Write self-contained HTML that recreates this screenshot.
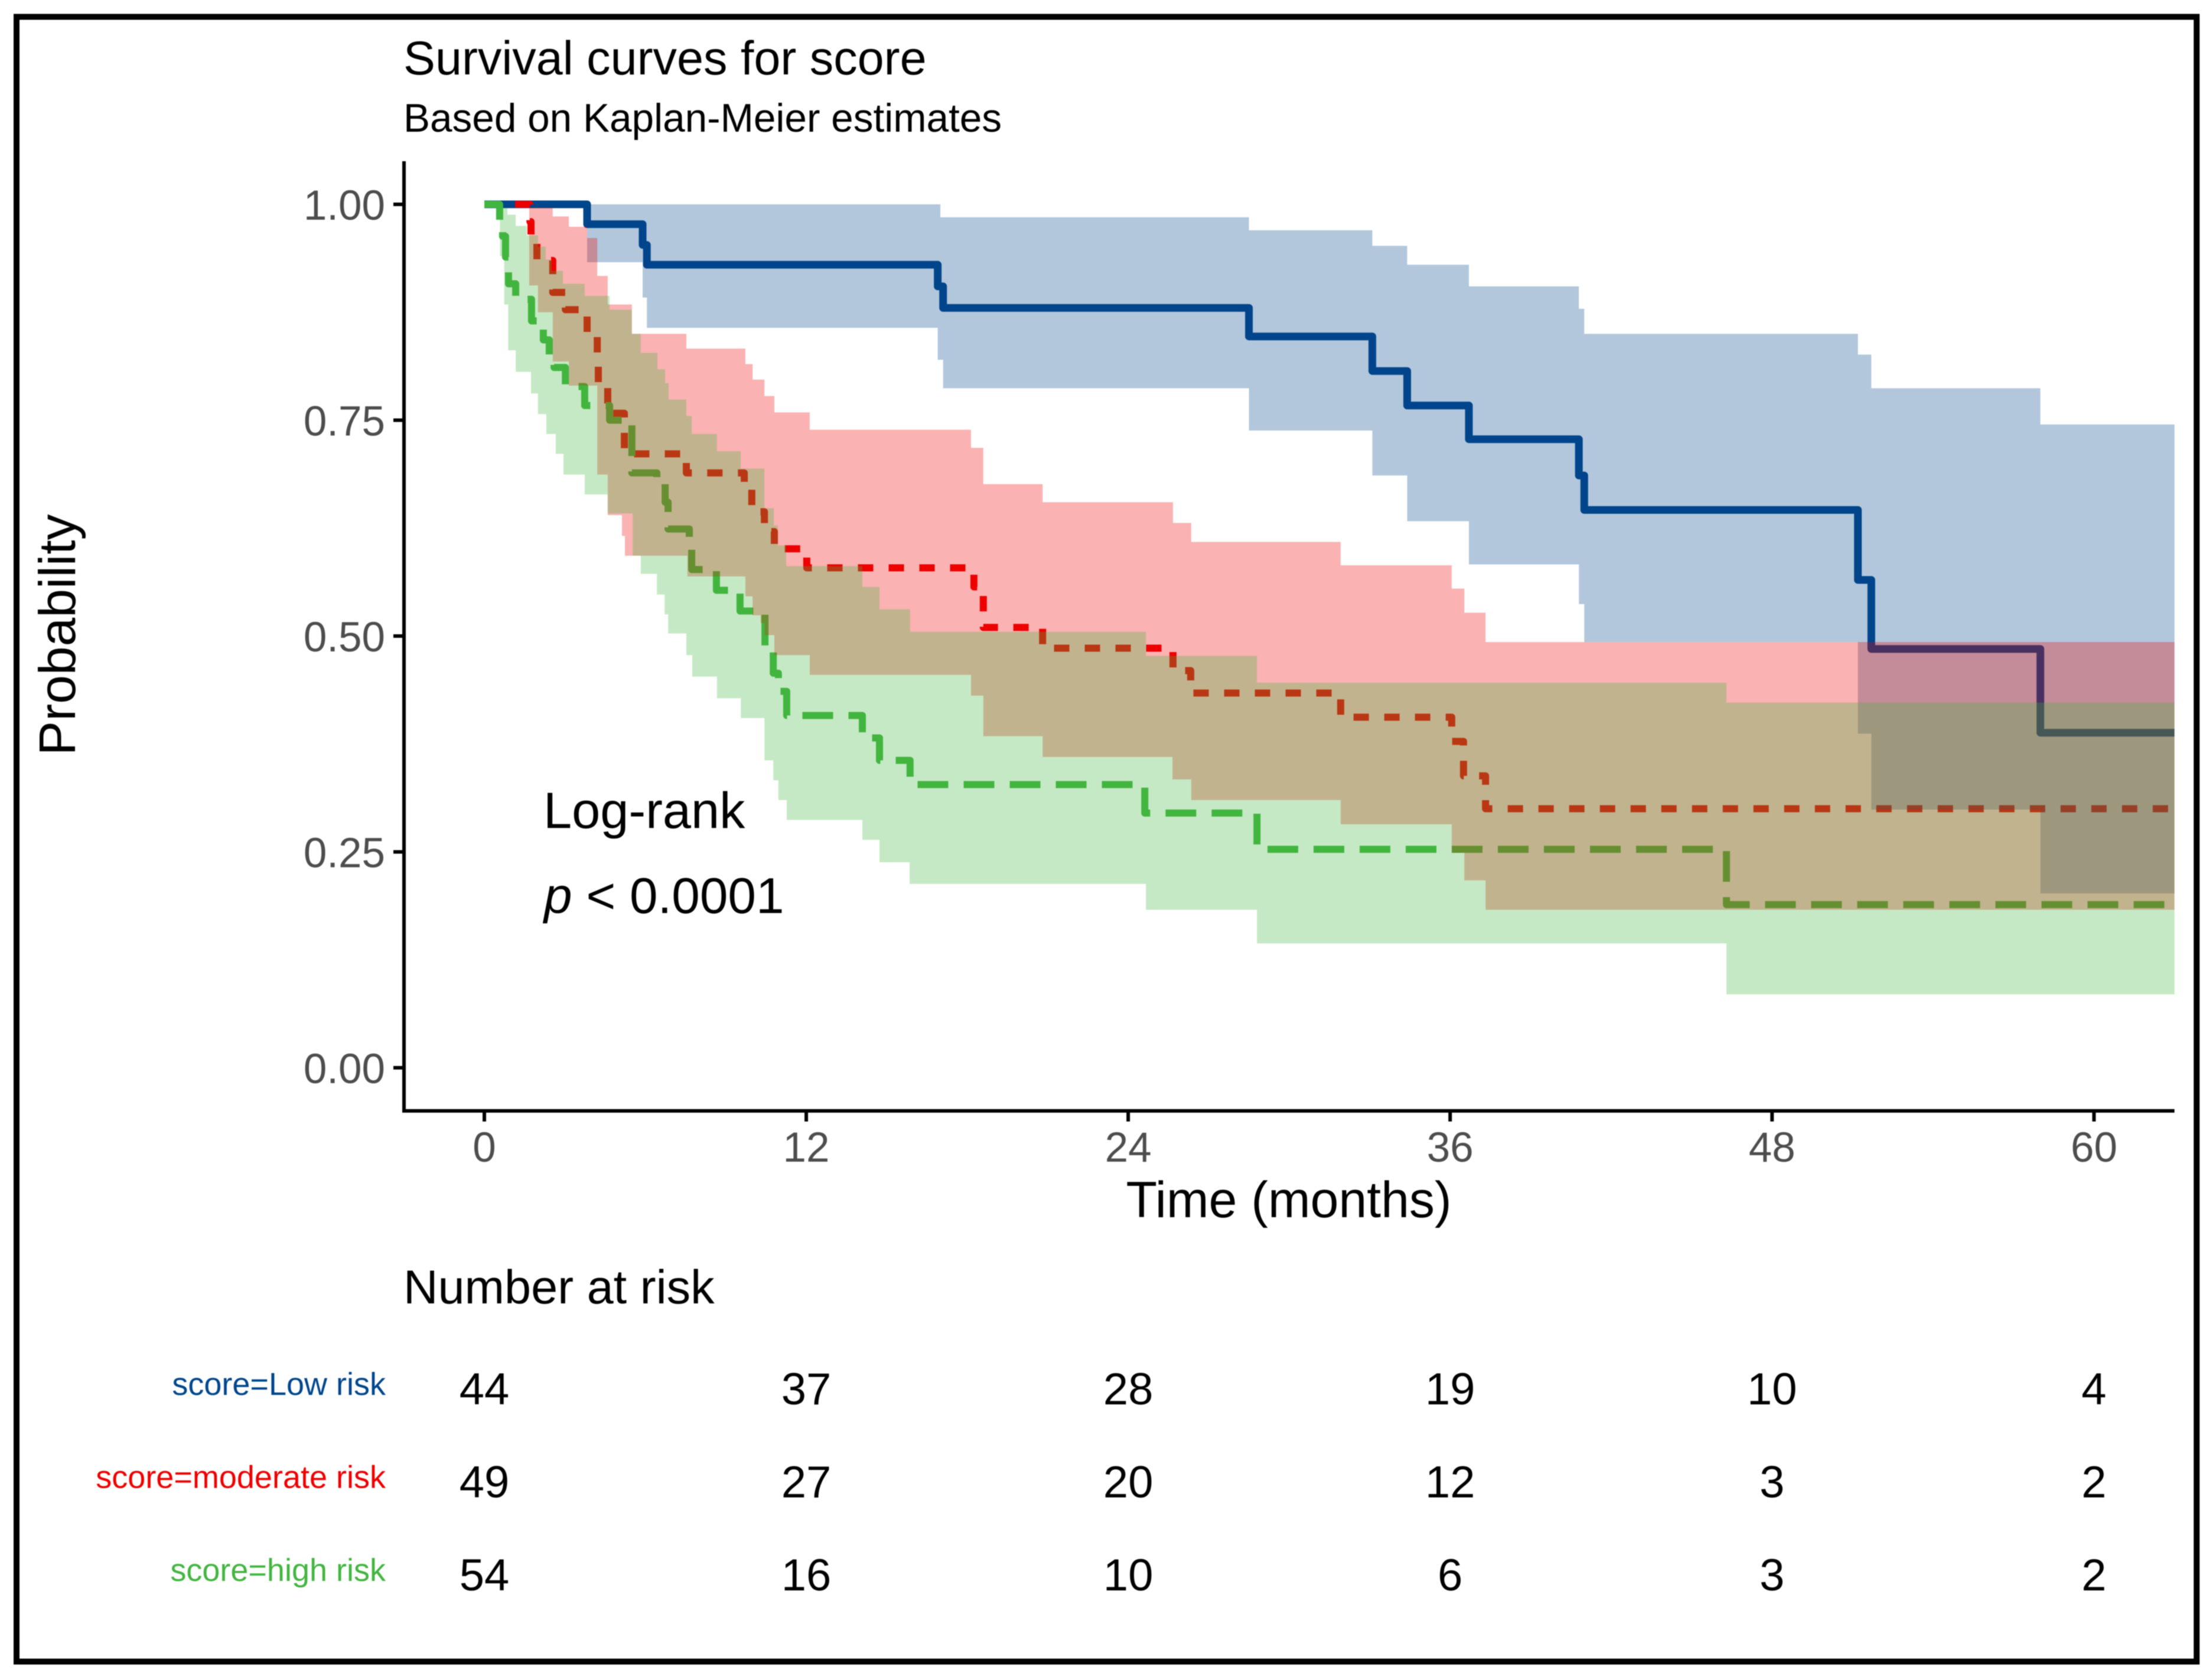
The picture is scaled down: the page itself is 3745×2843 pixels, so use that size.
<!DOCTYPE html>
<html><head><meta charset="utf-8"><title>Survival curves for score</title>
<style>html,body{margin:0;padding:0;background:#fff}svg{display:block;filter:blur(0.8px)}text{font-family:"Liberation Sans",sans-serif}</style>
</head><body>
<svg id="chart" xmlns="http://www.w3.org/2000/svg" width="3745" height="2843" viewBox="0 0 3745 2843">
<rect x="0" y="0" width="3745" height="2843" fill="#fff"/>
<rect x="28" y="28.5" width="3691" height="2785" fill="none" stroke="#000" stroke-width="10"/>
<g id="lines"></g>
<g id="ribbons"></g>
<g id="axes"></g>
<text x="683" y="126" font-size="80.9" fill="#000">Survival curves for score</text>
<text x="683" y="223" font-size="67.5" fill="#000">Based on Kaplan-Meier estimates</text>
<text x="2182" y="2061" font-size="86" text-anchor="middle" fill="#000">Time (months)</text>
<text transform="translate(127,1075) rotate(-90)" font-size="87.5" text-anchor="middle" fill="#000">Probability</text>
<text x="920" y="1402" font-size="86.5" fill="#000">Log-rank</text>
<text x="921" y="1546" font-size="85.5" fill="#000"><tspan font-style="italic">p</tspan> &lt; 0.0001</text>
<text x="683" y="2207" font-size="81" fill="#000">Number at risk</text>
<g id="risk"></g>
</svg>
<script>
const xTicks = [0, 12, 24, 36, 48, 60];
const yTicks = [0, 0.25, 0.5, 0.75, 1];
const yTickLabels = ["0.00", "0.25", "0.50", "0.75", "1.00"];
const xMax = 63;

const lowLineT = [0, 3.83, 5.90, 6.06, 16.9, 17.1, 28.5, 33.1, 34.4, 36.7, 40.8, 41.0, 51.2, 51.7, 58.0];
const lowLineS = [1, .977, .953, .930, .905, .880, .847, .807, .767, .728, .686, .646, .565, .485, .388];
const lowUpperT = [0, 17.0, 28.5, 33.1, 34.4, 36.7, 40.8, 41.0, 51.2, 51.7, 58.0];
const lowUpperS = [1, .985, .970, .952, .930, .905, .879, .850, .826, .787, .745];
const lowLowerT = [0, 3.83, 5.90, 6.06, 16.9, 17.1, 28.5, 33.1, 34.4, 36.7, 40.8, 41.0, 51.2, 51.7, 58.0];
const lowLowerS = [1, .933, .892, .857, .820, .787, .738, .686, .633, .583, .537, .493, .387, .299, .202];

const modLineT = [0, 1.70, 1.74, 1.96, 2.55, 3.02, 3.83, 4.21, 4.25, 4.60, 5.22, 7.53, 9.69, 9.97, 10.44, 10.81, 12.02, 18.25, 18.60, 20.81, 25.67, 26.33, 31.92, 36.06, 36.50, 37.32];
const modLineS = [1, .980, .960, .935, .898, .878, .848, .819, .789, .758, .711, .689, .670, .644, .621, .601, .579, .557, .510, .486, .460, .434, .406, .378, .338, .300];
const modUpperT = [1.67, 2.55, 3.15, 3.83, 4.21, 4.60, 5.50, 7.53, 9.73, 10.0, 10.44, 10.81, 12.13, 18.14, 18.60, 20.81, 25.67, 26.35, 31.92, 36.06, 36.53, 37.32];
const modUpperS = [.996, .986, .974, .961, .917, .884, .850, .833, .815, .797, .778, .759, .739, .718, .676, .655, .631, .609, .582, .555, .527, .493];
const modLowerT = [1.67, 2.00, 2.55, 3.15, 4.21, 4.60, 5.13, 5.24, 7.57, 9.73, 10.0, 10.30, 10.44, 10.81, 12.13, 18.14, 18.60, 20.81, 25.65, 26.35, 31.92, 36.06, 36.53, 37.32];
const modLowerS = [.906, .875, .818, .790, .687, .640, .616, .593, .569, .546, .524, .515, .501, .478, .455, .431, .384, .360, .334, .310, .282, .249, .217, .183];

const highLineT = [0, .57, .68, .79, .90, 1.17, 1.76, 2.20, 2.42, 2.60, 3.02, 3.74, 4.67, 5.50, 6.43, 6.74, 6.85, 7.64, 7.73, 8.65, 9.53, 10.46, 10.77, 10.96, 11.27, 14.09, 14.73, 15.87, 24.62, 28.80, 46.30];
const highLineS = [1, .982, .963, .939, .908, .890, .865, .843, .826, .811, .789, .767, .750, .689, .681, .655, .624, .601, .577, .553, .529, .481, .457, .436, .408, .382, .356, .328, .295, .253, .189];
const highUpperT = [.58, .86, 1.17, 1.58, 2.00, 2.29, 2.51, 2.93, 3.74, 4.67, 5.50, 5.83, 6.45, 6.74, 6.87, 7.53, 7.73, 8.67, 9.56, 10.44, 10.79, 10.94, 11.25, 14.09, 14.73, 15.87, 24.66, 28.80, 46.30];
const highUpperS = [.996, .988, .975, .964, .951, .936, .923, .908, .894, .878, .850, .828, .809, .793, .774, .755, .734, .714, .694, .648, .628, .605, .581, .557, .531, .505, .477, .446, .423];
const highLowerT = [.58, .74, .89, 1.17, 1.74, 2.00, 2.31, 2.66, 2.95, 3.74, 4.60, 5.53, 5.83, 6.43, 6.72, 6.85, 7.53, 7.75, 8.67, 9.56, 10.44, 10.77, 10.96, 11.27, 14.09, 14.73, 15.85, 24.66, 28.80, 46.30];
const highLowerS = [.940, .884, .831, .806, .781, .757, .734, .711, .687, .664, .642, .593, .572, .548, .525, .503, .478, .453, .428, .405, .356, .333, .310, .287, .264, .238, .213, .183, .144, .085];

const riskTimes = [0, 12, 24, 36, 48, 60];
const riskLabels = ["score=Low risk", "score=moderate risk", "score=high risk"];
const riskLow = [44, 37, 28, 19, 10, 4];
const riskMod = [49, 27, 20, 12, 3, 2];
const riskHigh = [54, 16, 10, 6, 3, 2];

const NS = "http://www.w3.org/2000/svg";
const xAt = t => 820 + 45.42 * t;
const yAt = s => 1808 - 1462 * s;

function forwardSteps(T, S) {
  let d = [];
  for (let i = 0; i < T.length; i++) {
    if (i > 0) d.push([xAt(T[i]), yAt(S[i - 1])]);
    d.push([xAt(T[i]), yAt(S[i])]);
  }
  d.push([xAt(xMax), yAt(S[S.length - 1])]);
  return d;
}
function toPath(points) {
  return points.map((p, i) => (i ? "L" : "M") + p[0].toFixed(1) + " " + p[1].toFixed(1)).join("");
}
function drawLine(T, S, color, width, dash, name) {
  const el = document.createElementNS(NS, "path");
  el.setAttribute("d", toPath(forwardSteps(T, S)));
  el.setAttribute("fill", "none");
  el.setAttribute("stroke", color);
  el.setAttribute("stroke-width", width);
  el.setAttribute("stroke-linejoin", "round");
  if (dash) el.setAttribute("stroke-dasharray", dash);
  
  
  document.getElementById("lines").appendChild(el);
}
function drawRibbon(upT, upS, loT, loS, color, name) {
  const pts = forwardSteps(upT, upS).concat(forwardSteps(loT, loS).reverse());
  const el = document.createElementNS(NS, "path");
  el.setAttribute("d", toPath(pts) + "Z");
  el.setAttribute("fill", color);
  el.setAttribute("fill-opacity", "0.3");
  
  
  document.getElementById("ribbons").appendChild(el);
}

drawLine(lowLineT, lowLineS, "#00468B", 13, null, "low-risk-curve");
drawLine(modLineT, modLineS, "#ED0000", 12, "26 26", "moderate-risk-curve");
drawLine(highLineT, highLineS, "#42B540", 12, "52 26", "high-risk-curve");
drawRibbon(lowUpperT, lowUpperS, lowLowerT, lowLowerS, "#00468B", "low-risk-ribbon");
drawRibbon(modUpperT, modUpperS, modLowerT, modLowerS, "#ED0000", "moderate-risk-ribbon");
drawRibbon(highUpperT, highUpperS, highLowerT, highLowerS, "#42B540", "high-risk-ribbon");

const axes = document.getElementById("axes");
function axisLine(x1, y1, x2, y2, w, name) {
  const el = document.createElementNS(NS, "line");
  el.setAttribute("x1", x1); el.setAttribute("y1", y1);
  el.setAttribute("x2", x2); el.setAttribute("y2", y2);
  el.setAttribute("stroke", "#000");
  el.setAttribute("stroke-width", w);
  
  
  axes.appendChild(el);
}
function label(parent, x, y, size, anchor, color, str, name) {
  const el = document.createElementNS(NS, "text");
  el.setAttribute("x", x); el.setAttribute("y", y);
  el.setAttribute("font-size", size);
  el.setAttribute("text-anchor", anchor);
  el.setAttribute("fill", color);
  el.textContent = str;
  
  
  parent.appendChild(el);
}
axisLine(684, 273, 684, 1884, 6, "y-axis-line");
axisLine(681, 1881, xAt(xMax), 1881, 6, "x-axis-line");
yTicks.forEach((v, i) => {
  axisLine(666, yAt(v), 684, yAt(v), 6, "y-tick");
  label(axes, 652, yAt(v) + 26, 71, "end", "#4d4d4d", yTickLabels[i], "y-tick-label");
});
xTicks.forEach(t => {
  axisLine(xAt(t), 1881, xAt(t), 1899, 6, "x-tick");
  label(axes, xAt(t), 1967, 71, "middle", "#4d4d4d", String(t), "x-tick-label");
});

const risk = document.getElementById("risk");
const riskRows = [riskLow, riskMod, riskHigh];
const riskColors = ["#00468B", "#ED0000", "#42B540"];
riskRows.forEach((row, r) => {
  const base = 2378 + 157.5 * r;
  label(risk, 653, base - 16, 54, "end", riskColors[r], riskLabels[r], "risk-row-label");
  row.forEach((n, c) => {
    label(risk, xAt(riskTimes[c]), base, 76, "middle", "#000", String(n), "risk-count");
  });
});
</script>
</body></html>
